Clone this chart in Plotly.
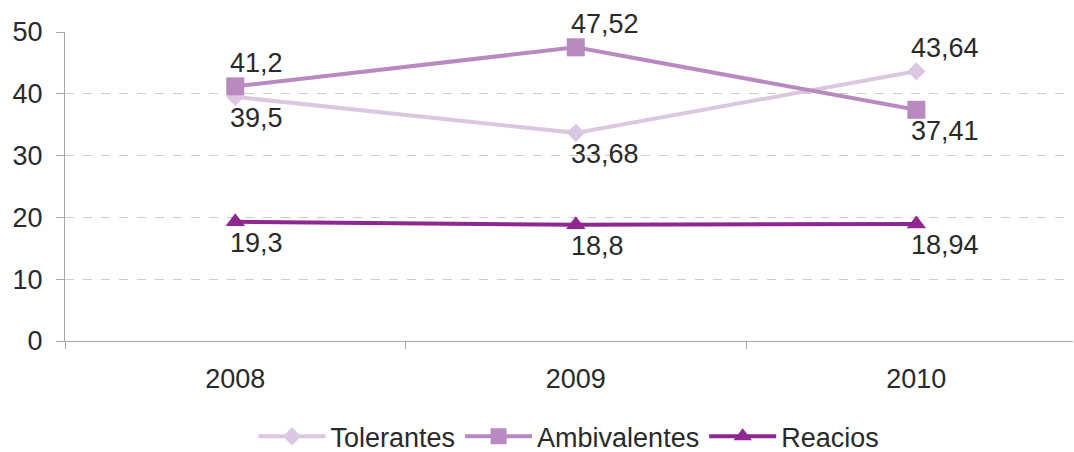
import plotly.graph_objects as go

years = ["2008", "2009", "2010"]
tolerantes = [39.5, 33.68, 43.64]
ambivalentes = [41.2, 47.52, 37.41]
reacios = [19.3, 18.8, 18.94]
y_ticks = [0, 10, 20, 30, 40, 50]

series = [
    ("Tolerantes", tolerantes, "#dcc7e2", "diamond", 14, ["below", "below", "above"]),
    ("Ambivalentes", ambivalentes, "#b88ac0", "square", 18, ["above", "above", "below"]),
    ("Reacios", reacios, "#8e278f", "triangle-up", 17, ["below", "below", "below"]),
]

FONT = "Liberation Sans"
TXT = "#2a2a2a"

fig = go.Figure()
annotations = []
for name, vals, color, sym, msize, pos in series:
    fig.add_trace(go.Scatter(
        x=years, y=vals, name=name, mode="lines+markers",
        line=dict(color=color, width=4),
        marker=dict(symbol=sym, size=msize, color=color),
    ))
    for i, (v, p) in enumerate(zip(vals, pos)):
        annotations.append(dict(
            x=i, y=v, xref="x", yref="y", showarrow=False,
            text=f"{v:g}".replace(".", ","),
            xanchor="left", yanchor="middle",
            xshift=-7, yshift=(23 if p == "above" else -21),
            font=dict(family=FONT, size=27, color=TXT),
        ))

fig.update_layout(
    width=1074, height=452,
    margin=dict(l=65, r=1, t=32, b=111, autoexpand=False),
    paper_bgcolor="white", plot_bgcolor="white",
    font=dict(family=FONT, size=26, color=TXT),
    showlegend=True,
    legend=dict(orientation="h", x=0.5, xanchor="center", y=-0.31, yanchor="middle",
                font=dict(family=FONT, size=27, color=TXT), itemwidth=67,
                traceorder="normal"),
    annotations=annotations,
)
fig.update_xaxes(
    type="category", range=[-0.5, 2.46], tickson="boundaries",
    showgrid=False, showline=True, linecolor="#a6a6a6", linewidth=1,
    ticks="outside", ticklen=7, tickcolor="#a6a6a6",
    tickfont=dict(family=FONT, size=27, color=TXT), ticklabelstandoff=14,
    zeroline=False,
)
fig.update_yaxes(
    range=[0, 50], tickvals=y_ticks, showgrid=True, gridcolor="#cccccc",
    griddash="dash", gridwidth=1,
    showline=True, linecolor="#a6a6a6", linewidth=1,
    ticks="outside", ticklen=8, tickcolor="#a6a6a6",
    tickfont=dict(family=FONT, size=27, color=TXT), ticklabelstandoff=8,
    zeroline=False,
)
fig.write_html("out.html")
